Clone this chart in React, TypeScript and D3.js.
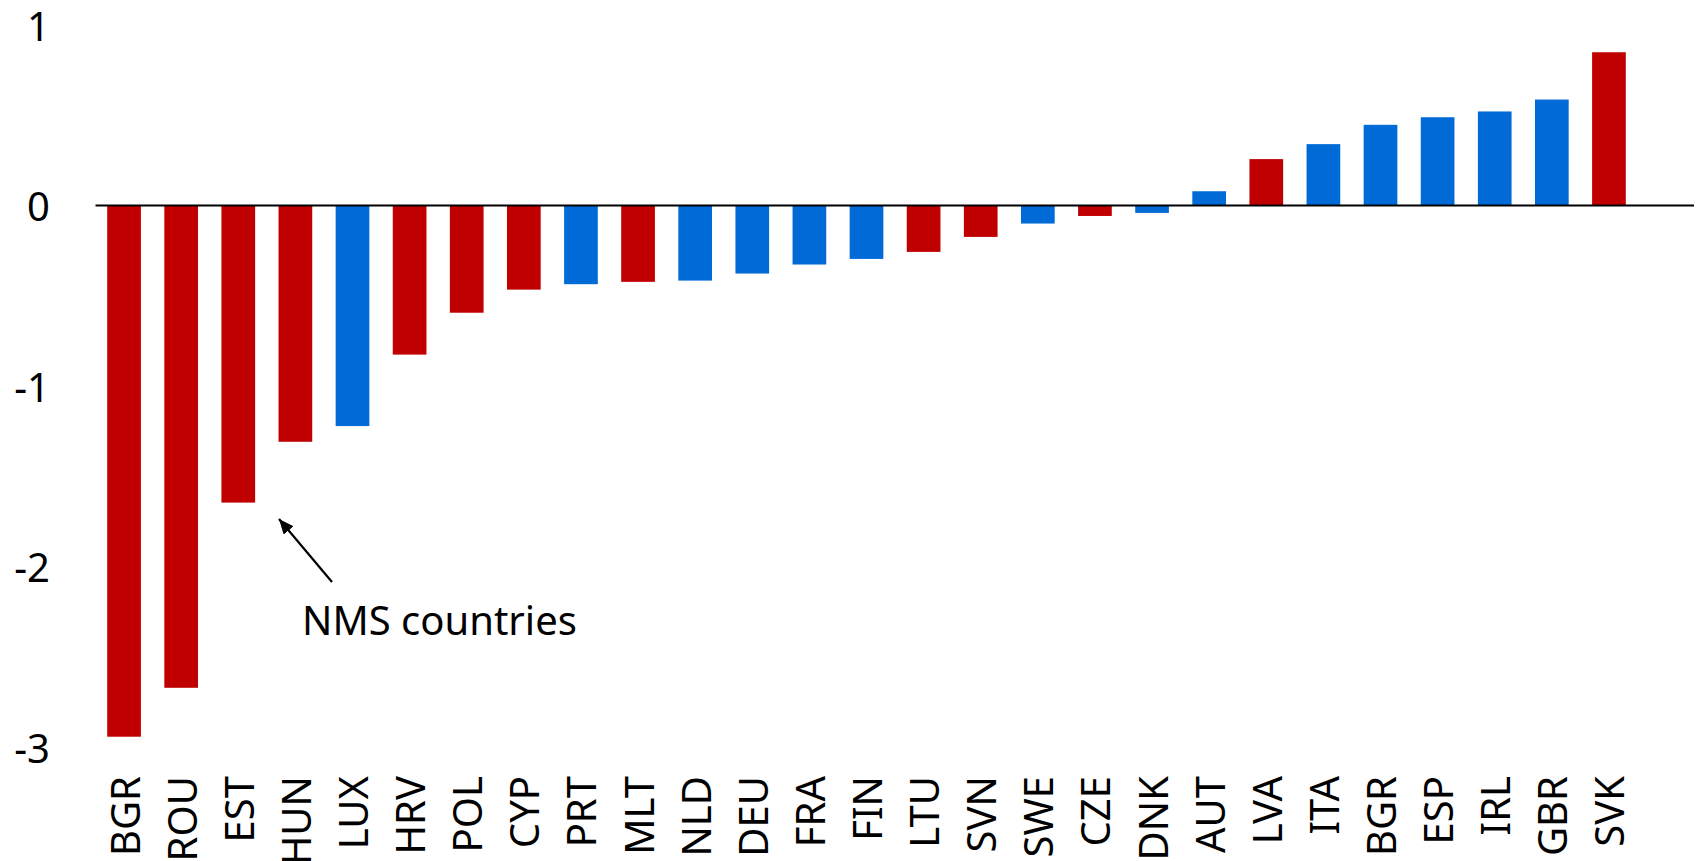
import React from "react";
import * as d3 from "d3";

const categories = ["BGR","ROU","EST","HUN","LUX","HRV","POL","CYP","PRT","MLT","NLD","DEU","FRA","FIN","LTU","SVN","SWE","CZE","DNK","AUT","LVA","ITA","BGR","ESP","IRL","GBR","SVK"];
const values = [-2.943,-2.672,-1.646,-1.309,-1.222,-0.826,-0.594,-0.466,-0.436,-0.423,-0.416,-0.377,-0.327,-0.296,-0.257,-0.174,-0.100,-0.058,-0.041,0.079,0.257,0.340,0.447,0.489,0.521,0.587,0.849];
const nms = [true,true,true,true,false,true,true,true,false,true,false,false,false,false,true,true,false,true,false,false,true,false,false,false,false,false,true];
const yTicks = [1, 0, -1, -2, -3];
const annotation = "NMS countries";

const W = 1696, H = 861;
const RED = "#C00000", BLUE = "#006BD6";
const FONT = "'Noto Sans', 'Open Sans', sans-serif";

export default function App() {
  const x = d3.scaleBand<number>()
    .domain(categories.map((_, i) => i))
    .range([95.5, 1637.5])
    .paddingInner(0.41)
    .paddingOuter(0.205);
  const y = d3.scaleLinear().domain([-3, 1]).range([747, 25]);
  const y0 = y(0);

  return (
    <svg width={W} height={H} style={{ position: "absolute", left: 0, top: 0, display: "block", background: "#fff" }}>
      <defs>
        <marker id="ah" viewBox="0 0 15 13" refX="15" refY="6.5" markerWidth="15" markerHeight="13" markerUnits="userSpaceOnUse" orient="auto">
          <path d="M0,0 L15,6.5 L0,13 z" fill="#000" />
        </marker>
      </defs>
      {values.map((v, i) => (
        <rect key={i}
          x={x(i)!}
          y={Math.min(y(v), y0)}
          width={x.bandwidth()}
          height={Math.abs(y(v) - y0)}
          fill={nms[i] ? RED : BLUE} />
      ))}
      <line x1={95.5} x2={1694} y1={y0} y2={y0} stroke="#000" strokeWidth={2} />
      {yTicks.map(t => (
        <text key={t} x={50} y={y(t)} textAnchor="end" dominantBaseline="central"
          fontFamily={FONT} fontSize={40} fill="#000">{t}</text>
      ))}
      {categories.map((c, i) => {
        const cx = x(i)! + x.bandwidth() / 2;
        return (
          <text key={i} transform={`translate(${cx},776) rotate(-90)`} textAnchor="end"
            dominantBaseline="central" fontFamily={FONT} fontSize={40} fill="#000">{c}</text>
        );
      })}
      <line x1={332} y1={582} x2={279} y2={519} stroke="#000" strokeWidth={2.2}
        markerEnd="url(#ah)" />
      <text x={302} y={635} fontFamily={FONT} fontSize={40} fill="#000">{annotation}</text>
    </svg>
  );
}
